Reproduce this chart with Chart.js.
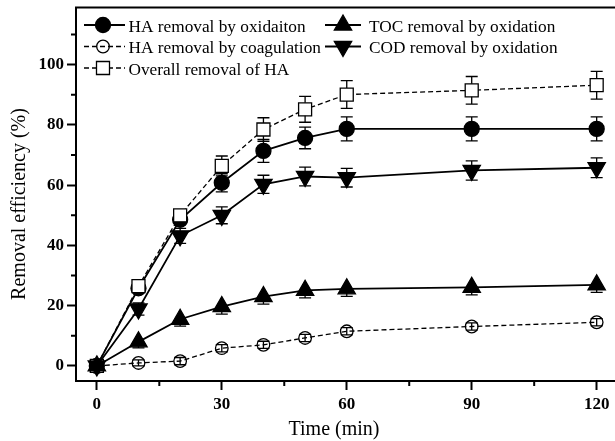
<!DOCTYPE html>
<html>
<head>
<meta charset="utf-8">
<script src="https://cdn.jsdelivr.net/npm/chart.js@4.4.1/dist/chart.umd.min.js"></script>
<style>
  html, body { margin: 0; padding: 0; background: #ffffff; }
  canvas { display: block; }
</style>
</head>
<body>
<canvas id="chart" width="615" height="441"></canvas>
<script>
// Sampling times (min)
const times = [0, 10, 20, 30, 40, 50, 60, 90, 120];

// Removal efficiency (%) and standard deviations for each series
const haOxidation     = [0, 25.8, 48.5, 60.8, 71.4, 75.7, 78.7, 78.7, 78.7];
const haOxidationErr  = [0, 1.2, 1.5, 3.0, 3.8, 3.6, 4.0, 4.0, 4.0];
const haCoagulation   = [0, 1.0, 1.6, 5.9, 7.0, 9.3, 11.5, 13.1, 14.5];
const haCoagulationErr= [0, 1.0, 1.2, 1.2, 1.2, 1.2, 1.2, 1.2, 1.2];
const overallHA       = [0, 26.5, 50.0, 66.4, 78.5, 85.2, 90.1, 91.5, 93.2];
const overallHAErr    = [0, 1.2, 1.5, 3.3, 3.9, 4.3, 4.6, 4.6, 4.6];
const tocOxidation    = [0, 8.0, 15.5, 19.7, 23.0, 25.1, 25.6, 26.1, 26.9];
const tocOxidationErr = [0, 2.0, 2.3, 2.5, 2.5, 2.5, 2.5, 2.5, 2.5];
const codOxidation    = [0, 18.9, 43.2, 50.0, 60.3, 62.9, 62.5, 64.9, 65.8];
const codOxidationErr = [0, 2.0, 2.5, 2.8, 3.0, 3.1, 3.1, 3.2, 3.3];

// Axis ticks
const xMajorTicks = [0, 30, 60, 90, 120];
const xMinorTicks = [15, 45, 75, 105];
const yMajorTicks = [0, 20, 40, 60, 80, 100];
const yMinorTicks = [10, 30, 50, 70, 90, 110];

// Legend labels
const labels = {
  haOx: 'HA removal by oxidaiton',
  haCoag: 'HA removal by coagulation',
  overall: 'Overall removal of HA',
  toc: 'TOC removal by oxidation',
  cod: 'COD removal by oxidation'
};

const SERIF = '"Liberation Serif", "Times New Roman", serif';
const pts = (ys) => times.map((t, i) => ({ x: t, y: ys[i] }));

const styles = {
  haOx:    { pointStyle: 'circle',   radius: 7.5, rotation: 0,   fill: '#000', dash: [],     lw: 1.8 },
  haCoag:  { pointStyle: 'circle',   radius: 6.3, rotation: 0,   fill: 'rgba(0,0,0,0)', dash: [5, 3], lw: 1.3 },
  overall: { pointStyle: 'rect',     radius: 9.2, rotation: 0,   fill: '#fff', dash: [5, 3], lw: 1.3 },
  toc:     { pointStyle: 'triangle', radius: 10,  rotation: 0,   fill: '#000', dash: [],     lw: 1.8 },
  cod:     { pointStyle: 'triangle', radius: 10,  rotation: 180, fill: '#000', dash: [],     lw: 1.8 }
};

function makeDataset(key, values, errors, upperCap = true) {
  const s = styles[key];
  return {
    label: labels[key],
    data: pts(values),
    errorBars: errors,
    upperCap: upperCap,
    borderColor: '#000',
    borderWidth: s.lw,
    borderDash: s.dash,
    pointStyle: s.pointStyle,
    pointRadius: s.radius,
    pointHoverRadius: s.radius,
    pointRotation: s.rotation,
    pointBackgroundColor: s.fill,
    pointBorderColor: '#000',
    pointBorderWidth: 1.3,
    tension: 0,
    fill: false
  };
}

// Vertical error bars with caps, drawn beneath the markers
const errorBarPlugin = {
  id: 'errorBars',
  beforeDatasetsDraw(chart) {
    const ctx = chart.ctx;
    const yScale = chart.scales.y;
    ctx.save();
    ctx.strokeStyle = '#000';
    ctx.lineWidth = 1.3;
    ctx.setLineDash([]);
    chart.data.datasets.forEach((ds, di) => {
      const meta = chart.getDatasetMeta(di);
      meta.data.forEach((pt, i) => {
        const e = ds.errorBars[i];
        if (!e) return;
        const v = ds.data[i].y;
        const yTop = yScale.getPixelForValue(v + e);
        const yBot = yScale.getPixelForValue(v - e);
        const x = pt.x;
        ctx.beginPath();
        ctx.moveTo(x, yTop); ctx.lineTo(x, yBot);
        if (ds.upperCap) { ctx.moveTo(x - 6, yTop); ctx.lineTo(x + 6, yTop); }
        ctx.moveTo(x - 6, yBot); ctx.lineTo(x + 6, yBot);
        ctx.stroke();
      });
    });
    ctx.restore();
  }
};

function drawMarker(ctx, s, x, y) {
  ctx.beginPath();
  if (s.pointStyle === 'circle') {
    ctx.arc(x, y, s.radius, 0, Math.PI * 2);
  } else if (s.pointStyle === 'rect') {
    const h = s.radius * Math.SQRT1_2;
    ctx.rect(x - h, y - h, 2 * h, 2 * h);
  } else {
    let a = s.rotation * Math.PI / 180;
    for (let k = 0; k < 3; k++) {
      const px = x + Math.sin(a) * s.radius;
      const py = y - Math.cos(a) * s.radius;
      if (k === 0) ctx.moveTo(px, py); else ctx.lineTo(px, py);
      a += Math.PI * 2 / 3;
    }
    ctx.closePath();
  }
  ctx.fillStyle = s.fill;
  ctx.fill();
  ctx.setLineDash([]);
  ctx.lineWidth = 1.3;
  ctx.strokeStyle = '#000';
  ctx.stroke();
}

// Frame, minor ticks, axis titles and the in-plot legend
const decorPlugin = {
  id: 'decor',
  afterDraw(chart) {
    const ctx = chart.ctx;
    const { left, right, top, bottom } = chart.chartArea;
    const xs = chart.scales.x, ys = chart.scales.y;
    ctx.save();
    ctx.strokeStyle = '#000';
    ctx.lineWidth = 2;
    ctx.setLineDash([]);
    ctx.beginPath();
    ctx.moveTo(right + 2, top); ctx.lineTo(left, top); ctx.lineTo(left, bottom); ctx.lineTo(right + 2, bottom);
    ctx.stroke();

    // minor ticks
    ctx.beginPath();
    xMinorTicks.forEach(v => { const x = xs.getPixelForValue(v); ctx.moveTo(x, bottom); ctx.lineTo(x, bottom + 5); });
    yMinorTicks.forEach(v => { const y = ys.getPixelForValue(v); ctx.moveTo(left, y); ctx.lineTo(left - 5, y); });
    ctx.stroke();

    // axis titles
    ctx.fillStyle = '#000';
    ctx.font = '20px ' + SERIF;
    ctx.textAlign = 'center';
    ctx.textBaseline = 'middle';
    ctx.fillText('Time (min)', 334, 430);
    ctx.save();
    ctx.translate(20, 204);
    ctx.rotate(-Math.PI / 2);
    ctx.fillText('Removal efficiency (%)', 0, 0);
    ctx.restore();

    // legend
    const rows = [
      { key: 'haOx',    x0: 84,  x1: 125, mx: 103, tx: 128.5, y: 25 },
      { key: 'haCoag',  x0: 84,  x1: 125, mx: 103, tx: 128.5, y: 46.5 },
      { key: 'overall', x0: 84,  x1: 125, mx: 103, tx: 128.5, y: 68 },
      { key: 'toc',     x0: 325, x1: 361, mx: 343, tx: 369,   y: 25 },
      { key: 'cod',     x0: 325, x1: 361, mx: 343, tx: 369,   y: 46.5 }
    ];
    ctx.font = '17.3px ' + SERIF;
    ctx.textAlign = 'left';
    ctx.textBaseline = 'alphabetic';
    rows.forEach(r => {
      const s = styles[r.key];
      ctx.beginPath();
      ctx.setLineDash(s.dash);
      ctx.lineWidth = s.lw;
      ctx.strokeStyle = '#000';
      ctx.moveTo(r.x0, r.y); ctx.lineTo(r.x1, r.y);
      ctx.stroke();
      drawMarker(ctx, s, r.mx, r.y);
      ctx.fillStyle = '#000';
      ctx.fillText(labels[r.key], r.tx, r.y + 6.5);
    });
    ctx.restore();
  }
};

const tickFont = { family: SERIF, size: 17, weight: 'bold' };

// First dataset is drawn top-most
new Chart(document.getElementById('chart'), {
  type: 'line',
  data: {
    datasets: [
      makeDataset('toc', tocOxidation, tocOxidationErr, false),
      makeDataset('cod', codOxidation, codOxidationErr),
      makeDataset('overall', overallHA, overallHAErr),
      makeDataset('haOx', haOxidation, haOxidationErr),
      makeDataset('haCoag', haCoagulation, haCoagulationErr)
    ]
  },
  options: {
    responsive: false,
    animation: false,
    events: [],
    layout: { autoPadding: false, padding: { top: 7.5, right: 0, left: 0, bottom: 0 } },
    plugins: { legend: { display: false }, tooltip: { enabled: false }, title: { display: false } },
    scales: {
      x: {
        type: 'linear',
        min: -5,
        max: 124.4,
        afterBuildTicks: s => { s.ticks = xMajorTicks.map(v => ({ value: v })); },
        afterFit: s => { s.height = 60; s.paddingLeft = 0; s.paddingRight = 0; },
        grid: { drawOnChartArea: false, drawTicks: true, tickLength: 9, tickWidth: 2, tickColor: '#000', color: '#000' },
        border: { display: false },
        ticks: { font: tickFont, color: '#000', padding: 4, maxRotation: 0, autoSkip: false }
      },
      y: {
        type: 'linear',
        min: -5,
        max: 119,
        afterBuildTicks: s => { s.ticks = yMajorTicks.map(v => ({ value: v })); },
        afterFit: s => { s.width = 76; s.paddingTop = 0; s.paddingBottom = 0; },
        grid: { drawOnChartArea: false, drawTicks: true, tickLength: 9, tickWidth: 2, tickColor: '#000', color: '#000' },
        border: { display: false },
        ticks: { font: tickFont, color: '#000', padding: 3, autoSkip: false }
      }
    }
  },
  plugins: [errorBarPlugin, decorPlugin]
});
</script>
</body>
</html>
